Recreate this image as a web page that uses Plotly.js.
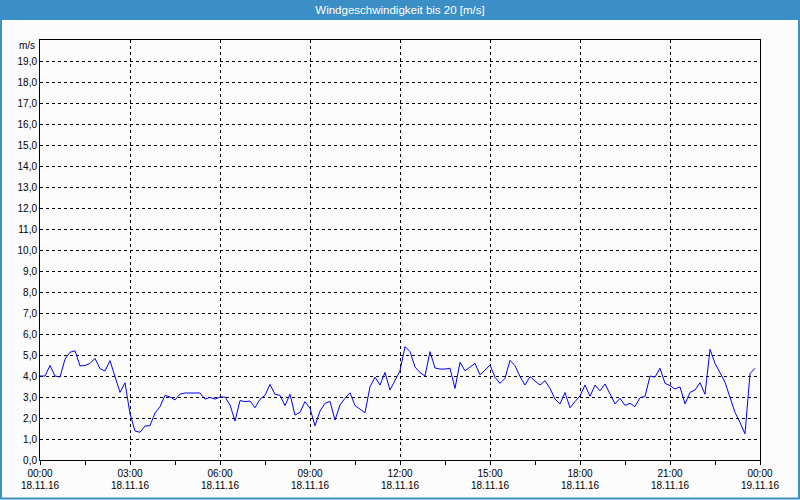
<!DOCTYPE html>
<html>
<head>
<meta charset="utf-8">
<script src="https://cdn.plot.ly/plotly-3.0.1.min.js"></script>
<style>
html,body{margin:0;padding:0;background:#fbfcfb;}
#chart{width:800px;height:500px;}
</style>
</head>
<body>
<div id="chart"></div>
<script>
// Chart data
var chartTitle = "Windgeschwindigkeit bis 20 [m/s]";
var unitLabel = "m/s";
var startTime = "2016-11-18 00:00";
var endTime = "2016-11-19 00:00";
var stepMinutes = 10;
var yTickValues = [0,1,2,3,4,5,6,7,8,9,10,11,12,13,14,15,16,17,18,19];
var windSpeed = [
  4.0, 4.0, 4.5, 4.0, 3.95, 4.8, 5.13, 5.2, 4.48, 4.5, 4.6, 4.84, 4.35, 4.24, 4.73, 3.95, 3.22, 3.68, 2.2, 1.38, 1.32, 1.62, 1.63, 2.24,
  2.54, 3.08, 3.0, 2.86, 3.14, 3.19, 3.19, 3.16, 3.19, 2.9, 2.98, 2.9, 3.0, 3.0, 2.62, 1.86, 2.83, 2.78, 2.81, 2.49, 2.89, 3.08, 3.6, 3.13,
  3.08, 2.59, 3.13, 2.14, 2.27, 2.78, 2.46, 1.63, 2.33, 2.7, 2.79, 1.9, 2.62, 2.94, 3.2, 2.59, 2.43, 2.25, 3.49, 3.94, 3.57, 4.17, 3.33, 3.81,
  4.25, 5.4, 5.16, 4.43, 4.16, 4.0, 5.16, 4.38, 4.33, 4.33, 4.37, 3.41, 4.65, 4.25, 4.43, 4.6, 4.05, 4.29, 4.52, 3.94, 3.65, 3.89, 4.75, 4.49,
  3.97, 3.57, 3.97, 3.76, 3.57, 3.78, 3.41, 2.9, 2.67, 3.21, 2.49, 2.78, 3.05, 3.57, 3.03, 3.57, 3.29, 3.62, 3.17, 2.67, 2.94, 2.6, 2.7, 2.54,
  2.97, 3.02, 4.0, 3.95, 4.37, 3.65, 3.54, 3.38, 3.48, 2.67, 3.22, 3.33, 3.68, 3.13, 5.27, 4.6, 4.16, 3.7, 2.98, 2.27, 1.79, 1.25, 4.11, 4.37
];

// timestamps, one per reading (10-minute interval)
function pad(n){return (n<10?"0":"")+n;}
var t0 = Date.UTC(2016,10,18,0,0);
var times = windSpeed.map(function(_,i){
  var d = new Date(t0 + i*stepMinutes*60000);
  return d.getUTCFullYear()+"-"+pad(d.getUTCMonth()+1)+"-"+pad(d.getUTCDate())+" "+pad(d.getUTCHours())+":"+pad(d.getUTCMinutes());
});

var blue = "#3c8fc6";
var fontFam = "Liberation Sans, Arial, sans-serif";

var trace = {
  x: times, y: windSpeed, type: "scatter", mode: "lines",
  line: {color: "#0000ff", width: 1},
  hoverinfo: "x+y"
};
// carrier for the second (date) label row
var dateRow = {
  x: [startTime, endTime], y: [null, null], xaxis: "x2", yaxis: "y",
  type: "scatter", mode: "lines", hoverinfo: "skip", showlegend: false
};

var layout = {
  width: 800, height: 500,
  margin: {l: 40, r: 40, t: 40, b: 40},
  paper_bgcolor: "#fbfcfb",
  plot_bgcolor: "#fbfcfb",
  separators: ",.",
  showlegend: false,
  font: {family: fontFam, size: 10, color: "#000"},
  title: {
    text: chartTitle,
    x: 0.5, xanchor: "center",
    y: 0.98, yanchor: "middle", yref: "container",
    font: {family: fontFam, size: 11.5, color: "#ffffff"}
  },
  xaxis: {
    type: "date",
    range: [startTime, endTime],
    dtick: 3*3600000,
    tick0: startTime,
    tickformat: "%H:%M",
    ticks: "outside", ticklen: 4, tickcolor: "#000",
    showgrid: true, gridcolor: "#000", gridwidth: 1, griddash: "3px,3px",
    minor: {dtick: 1.5*3600000, ticks: "outside", ticklen: 4, tickcolor: "#000", showgrid: false},
    showline: true, linecolor: "#000", linewidth: 1, mirror: true,
    zeroline: false,
    tickfont: {family: fontFam, size: 10, color: "#000"}
  },
  xaxis2: {
    type: "date",
    overlaying: "x", anchor: "y", side: "bottom",
    range: [startTime, endTime],
    dtick: 3*3600000,
    tick0: startTime,
    tickformat: "%d.%m.%y",
    ticks: "", ticklabelstandoff: 18,
    showgrid: false, showline: false, zeroline: false,
    tickfont: {family: fontFam, size: 10, color: "#000"}
  },
  yaxis: {
    range: [0, 20],
    tickmode: "array", tickvals: yTickValues,
    tickformat: ".1f",
    ticks: "",
    showgrid: true, gridcolor: "#000", gridwidth: 1, griddash: "3px,3px",
    showline: true, linecolor: "#000", linewidth: 1, mirror: true,
    zeroline: false,
    tickfont: {family: fontFam, size: 10, color: "#000"}
  },
  shapes: [
    {type: "rect", xref: "paper", yref: "paper", x0: -0.06, x1: 1.06, y0: 1.0476, y1: 1.1, fillcolor: blue, line: {width: 0}, layer: "below"},
    {type: "rect", xref: "paper", yref: "paper", x0: -0.0542, x1: 1.0542, y0: -0.0917, y1: 1.06, fillcolor: "rgba(0,0,0,0)", line: {color: blue, width: 2}, layer: "below"}
  ],
  annotations: [
    {text: unitLabel, xref: "paper", yref: "paper", x: -0.004, y: 0.986, xanchor: "right", yanchor: "middle", showarrow: false, font: {family: fontFam, size: 10, color: "#000"}}
  ]
};

Plotly.newPlot("chart", [trace, dateRow], layout, {displayModeBar: false, staticPlot: true});
</script>
</body>
</html>
